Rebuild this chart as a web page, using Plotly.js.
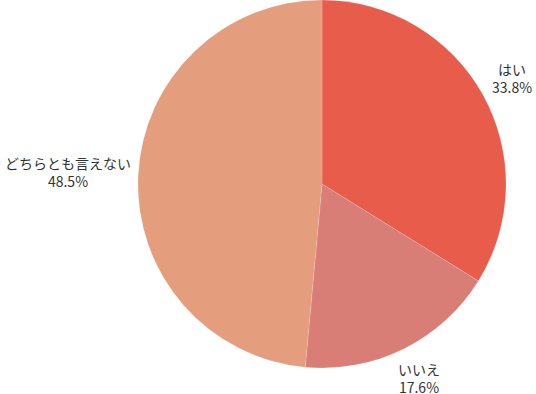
<!DOCTYPE html>
<html>
<head>
<meta charset="utf-8">
<script src="https://cdn.plot.ly/plotly-3.0.1.min.js"></script>
<style>html,body{margin:0;padding:0;background:#fff;}#chart{width:536px;height:394px;}</style>
</head>
<body>
<div id="chart"></div>
<script>
const labels = ["はい", "いいえ", "どちらとも言えない"];
const values = [33.8, 17.6, 48.5];
const colors = ["#E85C4C", "#D97E76", "#E49E7E"];

const W = 536, H = 394;
const margin = {l: 138, r: 30, t: 0, b: 26};
const fontFamily = "Noto Sans CJK JP";
const fontSize = 14;

// Label placement: outside each slice along its mid-angle
const plotW = W - margin.l - margin.r;
const plotH = H - margin.t - margin.b;
const R = Math.min(plotW, plotH) / 2;
const cx = plotW / 2, cy = plotH / 2;
const total = values.reduce((a, b) => a + b, 0);
const ctx = document.createElement("canvas").getContext("2d");
ctx.font = fontSize + "px '" + fontFamily + "'";
const gap = 7;
const lineH = fontSize * 1.3;

let cum = 0;
const annotations = labels.map((lab, i) => {
  const frac = values[i] / total;
  const mid = (cum + frac / 2) * 2 * Math.PI;
  cum += frac;
  const ux = Math.sin(mid), uy = -Math.cos(mid);
  const line2 = values[i].toFixed(1) + "%";
  const hw = Math.max(ctx.measureText(lab).width, ctx.measureText(line2).width) / 2;
  const hh = lineH;
  const D = R + gap + Math.abs(ux) * hw + Math.abs(uy) * hh;
  const px = cx + ux * D, py = cy + uy * D;
  return {
    text: lab + "<br>" + line2,
    xref: "paper", yref: "paper",
    x: px / plotW, y: 1 - py / plotH,
    xanchor: "center", yanchor: "middle",
    showarrow: false, align: "center",
    font: {family: fontFamily, size: fontSize, color: "#333"}
  };
});

Plotly.newPlot("chart", [{
  type: "pie",
  labels: labels,
  values: values,
  sort: false,
  direction: "clockwise",
  rotation: 0,
  marker: {colors: colors, line: {color: "rgba(255,255,255,0.3)", width: 0.5}},
  textinfo: "none",
  hoverinfo: "none",
  automargin: false
}], {
  width: W, height: H,
  margin: margin,
  showlegend: false,
  paper_bgcolor: "#fff",
  font: {family: fontFamily},
  annotations: annotations
}, {displayModeBar: false, staticPlot: true});
</script>
</body>
</html>
